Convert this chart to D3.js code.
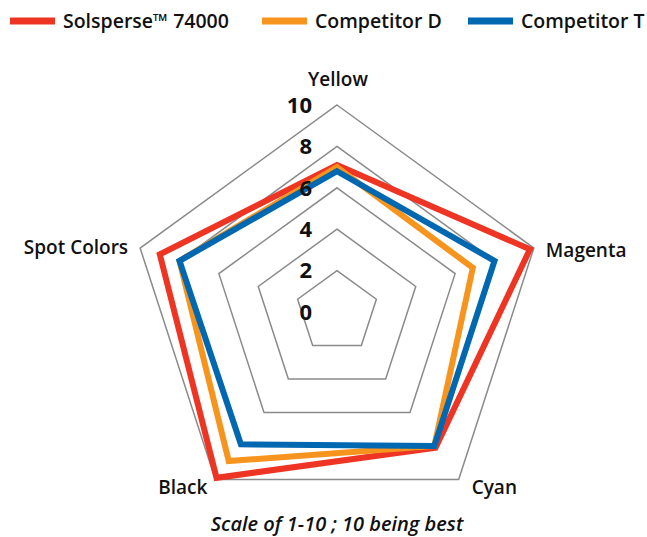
<!DOCTYPE html>
<html>
<head>
<meta charset="utf-8">
<script src="https://cdn.jsdelivr.net/npm/d3@7"></script>
<style>
  body { margin: 0; background: #fff; }
  text { font-family: "Open Sans", "Noto Sans", sans-serif; fill: #111; }
</style>
</head>
<body>
<div id="chart"></div>
<script>
// axes of the radar, clockwise from the top
const axes = ["Yellow", "Magenta", "Cyan", "Black", "Spot Colors"];
const seriesNames = ["Solsperse\u2122 74000", "Competitor D", "Competitor T"];
const seriesColors = ["#ee3524", "#f7941d", "#0067b1"];
// scores per axis (same order as axes)
const solsperse = [7.1, 9.8, 8.1, 9.9, 9.0];
const competitorD = [7.0, 6.9, 8.0, 8.9, 8.0];
const competitorT = [6.8, 8.0, 8.0, 7.9, 8.0];
const ringTicks = [2, 4, 6, 8, 10];
const tickLabels = [0, 2, 4, 6, 8, 10];

const width = 647, height = 537;
const cx = 337, cy = 312, R = 207;

const svg = d3.select("#chart")
    .append("svg")
    .attr("width", width)
    .attr("height", height);

const r = d3.scaleLinear().domain([0, 10]).range([0, R]);
const angle = d3.scalePoint().domain(axes).range([0, 2 * Math.PI * 4 / 5]);

function pt(axis, v) {
    const a = angle(axis);
    return [cx + r(v) * Math.sin(a), cy - r(v) * Math.cos(a)];
}

const radarLine = d3.line().curve(d3.curveLinearClosed);

// grid pentagons
svg.selectAll(".ring")
    .data(ringTicks)
    .enter()
    .append("path")
    .attr("class", "ring")
    .attr("d", d => radarLine(axes.map(a => pt(a, d))))
    .attr("fill", "none")
    .attr("stroke", "#8a8a8a")
    .attr("stroke-width", 1.5);

// series polygons
const series = [solsperse, competitorD, competitorT];
svg.selectAll(".series")
    .data(series)
    .enter()
    .append("path")
    .attr("class", "series")
    .attr("d", d => radarLine(d.map((v, i) => pt(axes[i], v))))
    .attr("fill", "none")
    .attr("stroke", (d, i) => seriesColors[i])
    .attr("stroke-width", 6)
    .attr("stroke-linejoin", "miter");

// scale labels
svg.selectAll(".tickLabel")
    .data(tickLabels)
    .enter()
    .append("text")
    .attr("class", "tickLabel")
    .attr("x", cx - 25)
    .attr("y", d => cy - r(d))
    .attr("dy", "0.35em")
    .attr("text-anchor", "end")
    .attr("font-size", "22px")
    .attr("font-weight", 700)
    .text(d => d);

// axis labels
const labelPos = {
    "Yellow": { dx: 1, dy: -19, anchor: "middle" },
    "Magenta": { dx: 12, dy: 9, anchor: "start" },
    "Cyan": { dx: 13, dy: 15, anchor: "start" },
    "Black": { dx: -8, dy: 15, anchor: "end" },
    "Spot Colors": { dx: -12, dy: 6, anchor: "end" }
};
svg.selectAll(".axisLabel")
    .data(axes)
    .enter()
    .append("text")
    .attr("class", "axisLabel")
    .attr("x", d => pt(d, 10)[0] + labelPos[d].dx)
    .attr("y", d => pt(d, 10)[1] + labelPos[d].dy)
    .attr("text-anchor", d => labelPos[d].anchor)
    .attr("font-size", "19px")
    .attr("font-weight", 600)
    .text(d => d);

// legend
const legendX = [10, 262, 468];
const legend = svg.selectAll(".legend")
    .data(seriesNames)
    .enter()
    .append("g")
    .attr("class", "legend")
    .attr("transform", (d, i) => "translate(" + legendX[i] + ",21)");
legend.append("line")
    .attr("x1", 0).attr("x2", 45)
    .attr("y1", 0).attr("y2", 0)
    .attr("stroke", (d, i) => seriesColors[i])
    .attr("stroke-width", 7);
legend.append("text")
    .attr("x", 53)
    .attr("y", 0)
    .attr("dy", "0.35em")
    .attr("font-size", "19.5px")
    .attr("font-weight", 600)
    .text(d => d);

// caption
svg.append("text")
    .attr("x", cx)
    .attr("y", 531)
    .attr("text-anchor", "middle")
    .attr("font-size", "20px")
    .attr("font-weight", 600)
    .attr("font-style", "italic")
    .text("Scale of 1-10 ; 10 being best");
</script>
</body>
</html>
